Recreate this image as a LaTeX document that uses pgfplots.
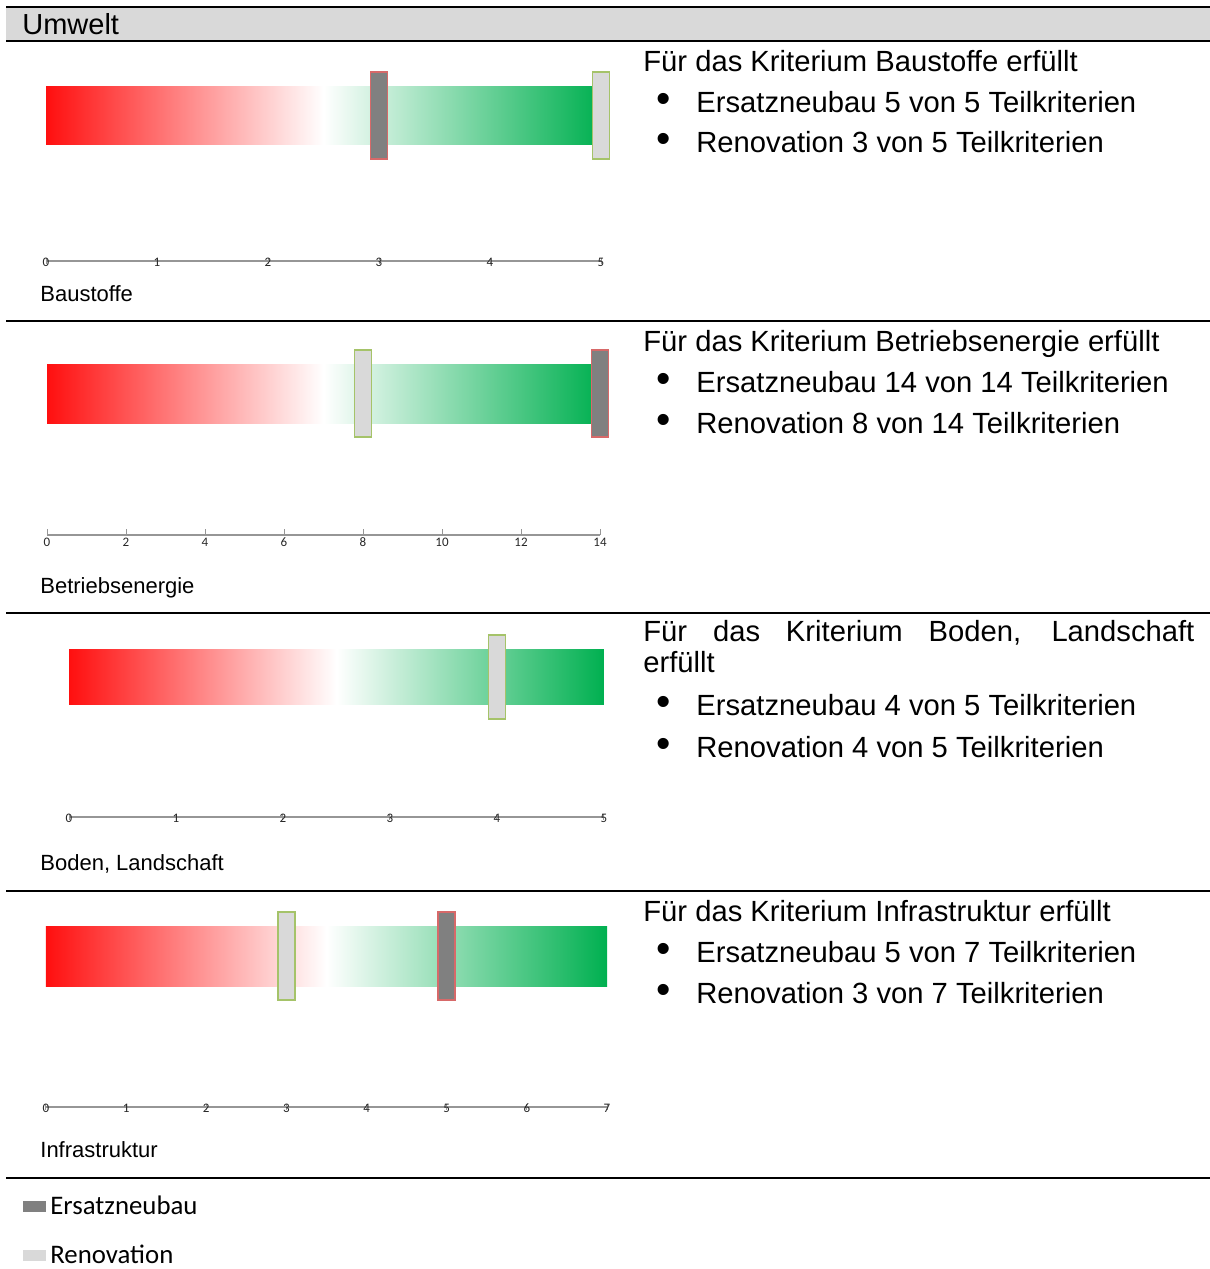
\documentclass[border=0pt]{standalone}
\usepackage{pgfplots}
\pgfplotsset{compat=1.18}
\usepackage{fontspec}
\setmainfont{Liberation Sans}
\newfontfamily\carlito{Carlito}
\definecolor{gRed}{RGB}{255,15,15}
\definecolor{gGreen}{RGB}{0,176,80}
\definecolor{eFill}{RGB}{128,128,128}
\definecolor{eBorder}{RGB}{215,105,105}
\definecolor{rFill}{RGB}{217,217,217}
\definecolor{rBorder}{RGB}{165,195,105}
\definecolor{hdr}{RGB}{217,217,217}
\definecolor{axgray}{RGB}{150,150,150}
\pgfplotsset{
  panel/.style={
    scale only axis, anchor=south west, clip=false,
    xmin=0, enlargelimits=false,
    axis x line=bottom, axis y line=none,
    axis line style={-, draw=axgray, line width=0.6pt},
    ytick=\empty,
    major tick length=3pt,
    tick style={axgray, line width=0.5pt},
    tick align=center,
    xticklabel style={anchor=center, yshift=1pt, font=\carlito\fontsize{6.5}{6.5}\selectfont, text=black!85},
    /pgf/number format/assume math mode=true,
  },
  gbar/.style={forget plot, draw=none, left color=gRed, right color=gGreen, middle color=white},
  ebar/.style={ybar, bar width=8.5pt, bar shift=0pt, fill=eFill, draw=eBorder, line width=0.75pt},
  rbar/.style={ybar, bar width=8.5pt, bar shift=0pt, fill=rFill, draw=rBorder, line width=0.75pt},
  legimg/.style={legend image code/.code={\fill[##1,draw=none] (0pt,-2.75pt) rectangle (11.5pt,2.75pt);}},
}
\tikzset{
  mt/.style={anchor=base west, inner sep=0pt, font=\fontsize{14.6}{17}\selectfont},
  bl/.style={anchor=base, inner sep=0pt, font=\fontsize{14.6}{17}\selectfont},
  lab/.style={anchor=base west, inner sep=0pt, font=\fontsize{11}{13}\selectfont},
}
\newcommand\bul{\scalebox{1.4}{•}}
\begin{document}
\begin{tikzpicture}
\begin{scope}[x=0.5pt,y=-0.5pt]
\path[use as bounding box] (0,0) rectangle (1210,1269);
% header band
\fill[hdr] (6,7) rectangle (1210,41);
\draw[line width=1.2pt] (6,7) -- (1210,7);
\draw[line width=1.4pt] (6,41) -- (1210,41);
\node[anchor=base west, inner sep=0pt, font=\fontsize{14.5}{17}\selectfont] at (22,34) {Umwelt};
\foreach \yy in {321,613,891,1178} {\draw[line width=1pt] (6,\yy) -- (1210,\yy);}

% panel texts
\node[mt] at (643,71) {Für das Kriterium Baustoffe erfüllt};
\node[bl] at (664,112) {\bul};
\node[mt] at (696,112) {Ersatzneubau 5 von 5 Teilkriterien};
\node[bl] at (664,152) {\bul};
\node[mt] at (696,152) {Renovation 3 von 5 Teilkriterien};
\node[lab] at (40,301) {Baustoffe};

\node[mt] at (643,351) {Für das Kriterium Betriebsenergie erfüllt};
\node[bl] at (664,392) {\bul};
\node[mt] at (696,392) {Ersatzneubau 14 von 14 Teilkriterien};
\node[bl] at (664,433) {\bul};
\node[mt] at (696,433) {Renovation 8 von 14 Teilkriterien};
\node[lab] at (40,593) {Betriebsenergie};

\node[mt] at (643,641) {\makebox[275.5pt][s]{Für das Kriterium Boden, Landschaft}};
\node[mt] at (643,672) {erfüllt};
\node[bl] at (664,715) {\bul};
\node[mt] at (696,715) {Ersatzneubau 4 von 5 Teilkriterien};
\node[bl] at (664,757) {\bul};
\node[mt] at (696,757) {Renovation 4 von 5 Teilkriterien};
\node[lab] at (40,870) {Boden, Landschaft};

\node[mt] at (643,921) {Für das Kriterium Infrastruktur erfüllt};
\node[bl] at (664,962) {\bul};
\node[mt] at (696,962) {Ersatzneubau 5 von 7 Teilkriterien};
\node[bl] at (664,1003) {\bul};
\node[mt] at (696,1003) {Renovation 3 von 7 Teilkriterien};
\node[lab] at (40,1157) {Infrastruktur};
\end{scope}

% Panel 1: Baustoffe
\begin{axis}[panel, at={(23pt,-130.5pt)}, width=277.5pt, height=94.5pt,
  xmax=5, ymin=-1.1724, ymax=1, xtick={0,...,5}]
\addplot[gbar] coordinates {(0,0.161) (5,0.161) (5,0.828) (0,0.828)} -- cycle;
\addplot[ebar] coordinates {(3,1)};
\addplot[rbar] coordinates {(5,1)};
\end{axis}

% Panel 2: Betriebsenergie
\begin{axis}[panel, at={(23.5pt,-267.5pt)}, width=276.5pt, height=92.5pt,
  xmax=14, ymin=-1.126, ymax=1, xtick={0,2,...,14},
  tick align=inside, xticklabel style={anchor=north, yshift=1pt}]
\addplot[gbar] coordinates {(0,0.161) (14,0.161) (14,0.828) (0,0.828)} -- cycle;
\addplot[ebar] coordinates {(14,1)};
\addplot[rbar] coordinates {(8,1)};
\end{axis}

% Panel 3: Boden, Landschaft
\begin{axis}[panel, at={(34.5pt,-408.5pt)}, width=267.5pt, height=91pt,
  xmax=5, ymin=-1.1667, ymax=1, xtick={0,...,5}]
\addplot[gbar] coordinates {(0,0.167) (5,0.167) (5,0.833) (0,0.833)} -- cycle;
\addplot[ebar] coordinates {(4,1)};
\addplot[rbar] coordinates {(4,1)};
\end{axis}

% Panel 4: Infrastruktur
\begin{axis}[panel, at={(23pt,-553.5pt)}, width=280.5pt, height=97.5pt,
  xmax=7, ymin=-1.216, ymax=1, xtick={0,...,7},
  legend style={at={(axis description cs:-0.041,-0.6360)}, anchor=west,
    draw=none, fill=none, inner sep=0pt, row sep=13.5pt,
    font=\carlito\fontsize{13.4}{15}\selectfont,
    nodes={inner sep=0pt},
    /tikz/every odd column/.append style={column sep=2pt}},
  legend cell align=left]
\addplot[gbar] coordinates {(0,0.148) (7,0.148) (7,0.841) (0,0.841)} -- cycle;
\addplot[ebar, legimg] coordinates {(5,1)};
\addlegendentry{Ersatzneubau}
\addplot[rbar, legimg] coordinates {(3,1)};
\addlegendentry{Renovation}
\end{axis}
\end{tikzpicture}
\end{document}
